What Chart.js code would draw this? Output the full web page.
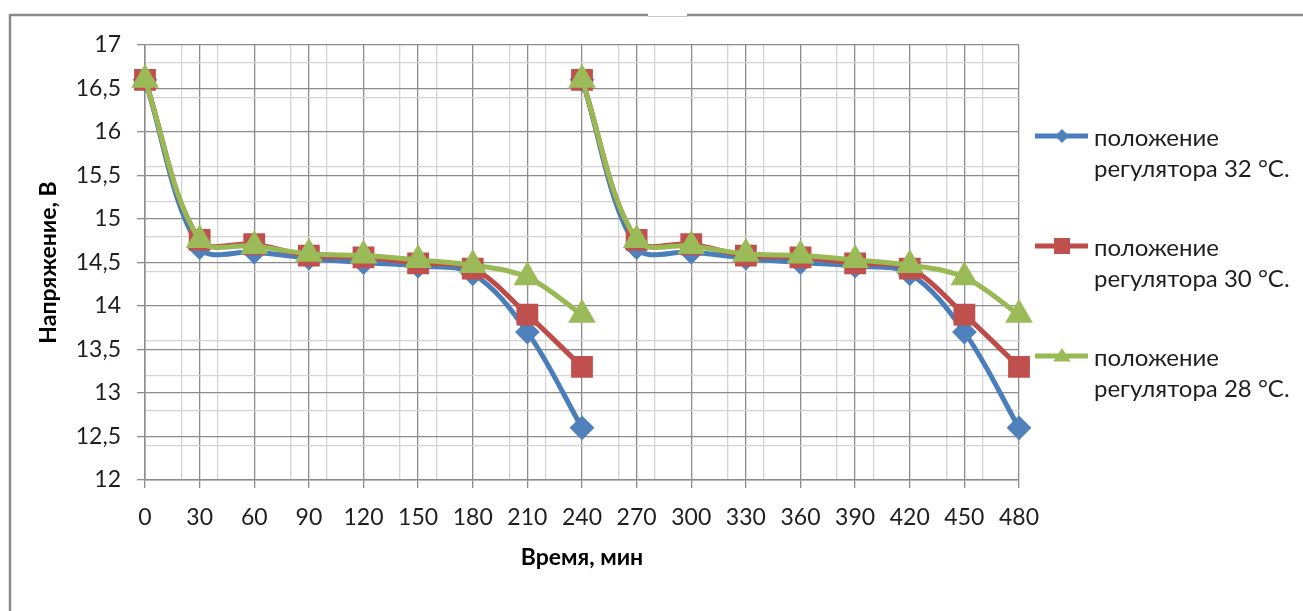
<!DOCTYPE html>
<html>
<head>
<meta charset="utf-8">
<script src="https://cdn.jsdelivr.net/npm/chart.js@4/dist/chart.umd.min.js"></script>
<style>
  html, body { margin: 0; padding: 0; background: #fff; }
  #wrap { width: 1303px; height: 611px; position: relative; }
</style>
</head>
<body>
<div id="wrap"><canvas id="chart" width="1303" height="611"></canvas></div>
<script>
// время, мин (два цикла разряда, второй начинается снова с 240)
const timeCycle1 = [0, 30, 60, 90, 120, 150, 180, 210, 240];
const timeCycle2 = [240, 270, 300, 330, 360, 390, 420, 450, 480];

// напряжение, В
const u32Cycle1 = [16.6, 14.67, 14.62, 14.55, 14.5, 14.46, 14.37, 13.7, 12.6];
const u32Cycle2 = [16.6, 14.67, 14.62, 14.55, 14.5, 14.46, 14.37, 13.7, 12.6];
const u30Cycle1 = [16.6, 14.76, 14.71, 14.58, 14.56, 14.49, 14.43, 13.9, 13.3];
const u30Cycle2 = [16.6, 14.76, 14.71, 14.58, 14.56, 14.49, 14.43, 13.9, 13.3];
const u28Cycle1 = [16.6, 14.76, 14.69, 14.6, 14.58, 14.53, 14.47, 14.33, 13.9];
const u28Cycle2 = [16.6, 14.76, 14.69, 14.6, 14.58, 14.53, 14.47, 14.33, 13.9];

const seriesNames = ["положение регулятора 32 °C.", "положение регулятора 30 °C.", "положение регулятора 28 °C."];

const COLORS = {
  blue: "#4A7EBB", blueMark: "#4F81BD",
  red: "#BE4B48", redMark: "#C0504D",
  green: "#98B954", greenMark: "#9BBB59",
  gridMajor: "#8C8C8C",
  gridMinor: "#D4D4D4",
  text: "#1E1E1E"
};
const FONT = "Lato, 'Open Sans', sans-serif";

function buildPoints(c1, c2) {
  const pts = timeCycle1.map((t, i) => ({ x: t, y: c1[i] }));
  pts.push({ x: 240, y: null }); // разрыв между циклами
  timeCycle2.forEach((t, i) => pts.push({ x: t, y: c2[i] }));
  return pts;
}

function makeDataset(label, c1, c2, line, mark, style, radius, order) {
  return {
    label,
    data: buildPoints(c1, c2),
    borderColor: line,
    borderWidth: 5,
    backgroundColor: mark,
    pointBackgroundColor: mark,
    pointBorderColor: mark,
    pointBorderWidth: 2,
    pointStyle: style,
    pointRadius: radius,
    pointHoverRadius: radius,
    tension: 0.35,
    spanGaps: false,
    clip: false,
    order
  };
}

const tenths = v => Math.round(v * 10);

// рамка как у области диаграммы Excel
const framePlugin = {
  id: "frame",
  beforeDraw(chart) {
    const ctx = chart.ctx;
    ctx.save();
    ctx.fillStyle = "#fff";
    ctx.fillRect(0, 0, chart.width, chart.height);
    ctx.strokeStyle = "#8A8A8A";
    ctx.lineWidth = 2.5;
    ctx.beginPath();
    ctx.moveTo(10, 611);
    ctx.lineTo(10, 15);
    ctx.lineTo(648, 15);
    ctx.moveTo(687, 15);
    ctx.lineTo(1303, 15);
    ctx.stroke();
    ctx.strokeStyle = "#C8C8C8";
    ctx.lineWidth = 1;
    ctx.beginPath();
    ctx.moveTo(648, 16.5);
    ctx.lineTo(687, 16.5);
    ctx.stroke();
    ctx.restore();
  }
};

function drawMarker(ctx, style, x, y, r, color) {
  ctx.fillStyle = color;
  ctx.beginPath();
  if (style === "rectRot") {
    ctx.moveTo(x, y - r); ctx.lineTo(x + r, y); ctx.lineTo(x, y + r); ctx.lineTo(x - r, y);
  } else if (style === "rect") {
    ctx.rect(x - r, y - r, 2 * r, 2 * r);
  } else {
    ctx.moveTo(x, y - r); ctx.lineTo(x + r * 1.1, y + r * 0.7); ctx.lineTo(x - r * 1.1, y + r * 0.7);
  }
  ctx.closePath();
  ctx.fill();
}

// легенда справа, подписи в две строки
const legendPlugin = {
  id: "sideLegend",
  afterDraw(chart) {
    const ctx = chart.ctx;
    const tops = [136, 246, 356];
    const sizes = [7, 8, 8];
    ctx.save();
    chart.data.datasets.forEach((ds, i) => {
      const y = tops[i];
      ctx.strokeStyle = ds.borderColor;
      ctx.lineWidth = 5;
      ctx.beginPath();
      ctx.moveTo(1035, y);
      ctx.lineTo(1088, y);
      ctx.stroke();
      drawMarker(ctx, ds.pointStyle, 1062, y, sizes[i], ds.pointBackgroundColor);
      const words = ds.label.split(" ");
      ctx.fillStyle = COLORS.text;
      ctx.font = "24px " + FONT;
      ctx.textBaseline = "alphabetic";
      ctx.textAlign = "left";
      ctx.fillText(words[0], 1094, y + 10);
      ctx.fillText(words.slice(1).join(" "), 1094, y + 41);
    });
    ctx.restore();
  }
};

new Chart(document.getElementById("chart"), {
  type: "line",
  data: {
    datasets: [
      makeDataset(seriesNames[0], u32Cycle1, u32Cycle2, COLORS.blue, COLORS.blueMark, "rectRot", 11, 3),
      makeDataset(seriesNames[1], u30Cycle1, u30Cycle2, COLORS.red, COLORS.redMark, "rect", 14, 2),
      makeDataset(seriesNames[2], u28Cycle1, u28Cycle2, COLORS.green, COLORS.greenMark, "triangle", 14, 1)
    ]
  },
  options: {
    responsive: false,
    animation: false,
    events: [],
    layout: { padding: { left: 10, top: 45, right: 284, bottom: 0 } },
    plugins: {
      legend: { display: false },
      tooltip: { enabled: false }
    },
    scales: {
      x: {
        type: "linear",
        min: 0,
        max: 480,
        afterFit: s => { s.height = 131; },
        ticks: {
          stepSize: 10,
          autoSkip: false,
          maxRotation: 0,
          padding: 16,
          color: COLORS.text,
          font: { family: FONT, size: 23 },
          callback: v => (v % 30 === 0 ? String(v) : "")
        },
        grid: {
          color: c => (c.tick.value % 30 === 0 ? COLORS.gridMajor : c.tick.value % 20 === 0 ? COLORS.gridMinor : "rgba(0,0,0,0)"),
          lineWidth: 1.3,
          tickLength: 8,
          tickColor: c => (c.tick.value % 30 === 0 ? COLORS.gridMajor : "rgba(0,0,0,0)")
        },
        border: { color: COLORS.gridMajor, width: 1.5 },
        title: {
          display: true,
          text: "Время, мин",
          color: "#000",
          font: { family: FONT, size: 23, weight: "bold" },
          padding: { top: 0, bottom: 40 }
        }
      },
      y: {
        min: 12,
        max: 17,
        afterFit: s => { s.width = 135; },
        ticks: {
          stepSize: 0.1,
          autoSkip: false,
          padding: 16,
          color: COLORS.text,
          font: { family: FONT, size: 23 },
          callback: v => (tenths(v) % 5 === 0 ? String(tenths(v) / 10).replace(".", ",") : "")
        },
        grid: {
          color: c => (tenths(c.tick.value) % 5 === 0 ? COLORS.gridMajor : tenths(c.tick.value) % 4 === 0 ? COLORS.gridMinor : "rgba(0,0,0,0)"),
          lineWidth: 1.3,
          tickLength: 8,
          tickColor: c => (tenths(c.tick.value) % 5 === 0 ? COLORS.gridMajor : "rgba(0,0,0,0)")
        },
        border: { color: COLORS.gridMajor, width: 1.5 },
        title: {
          display: true,
          text: "Напряжение, В",
          color: "#000",
          font: { family: FONT, size: 23, weight: "bold" },
          padding: { top: 25, bottom: 0 }
        }
      }
    }
  },
  plugins: [framePlugin, legendPlugin]
});
</script>
</body>
</html>
